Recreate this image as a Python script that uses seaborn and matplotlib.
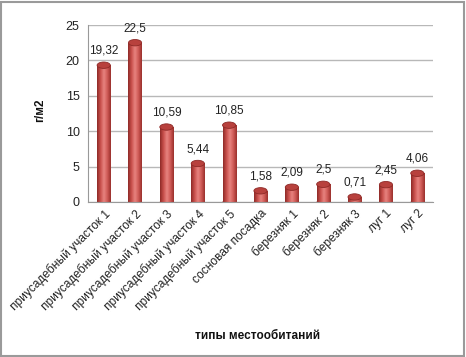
import numpy as np
import pandas as pd
import matplotlib
matplotlib.use("Agg")
import matplotlib.pyplot as plt
import seaborn as sns
from matplotlib.patches import Rectangle, Ellipse
from matplotlib.colors import LinearSegmentedColormap

categories = ["приусадебный участок 1", "приусадебный участок 2", "приусадебный участок 3",
              "приусадебный участок 4", "приусадебный участок 5", "сосновая посадка",
              "березняк 1", "березняк 2", "березняк 3", "луг 1", "луг 2"]
values = [19.32, 22.5, 10.59, 5.44, 10.85, 1.58, 2.09, 2.5, 0.71, 2.45, 4.06]
value_labels = ["19,32", "22,5", "10,59", "5,44", "10,85", "1,58", "2,09", "2,5", "0,71", "2,45", "4,06"]
y_ticks = [0, 5, 10, 15, 20, 25]

sns.set_style("white")
plt.rcParams["font.family"] = ["Liberation Sans", "DejaVu Sans"]

df = pd.DataFrame({"cat": categories, "val": values})

fig = plt.figure(figsize=(4.66, 3.57), dpi=100)
ax = fig.add_axes([88/466, 155/357, 345/466, 177/357])

sns.barplot(data=df, x="cat", y="val", color="#C0504D", width=0.42, ax=ax,
            edgecolor="none", saturation=1)

ax.set_ylim(0, 25)
ax.set_xlim(-0.5, len(categories) - 0.5)
ax.set_yticks(y_ticks)
ax.set_yticklabels([str(t) for t in y_ticks], fontsize=9, color="#222222")
for t in y_ticks:
    ax.axhline(t, color="#b8b8b8", lw=1.0, zorder=0)

cmap = LinearSegmentedColormap.from_list("cyl", ["#8e2a27", "#c9504c", "#e88480", "#cf5a56", "#9a302c"])
grad = np.linspace(0, 1, 64).reshape(1, -1)
for p in list(ax.patches):
    x0, y0 = p.get_x(), p.get_y()
    w, h = p.get_width(), p.get_height()
    im = ax.imshow(grad, extent=[x0, x0 + w, y0, y0 + h], aspect="auto", cmap=cmap,
                   zorder=2, interpolation="bilinear")
    im.set_clip_path(p)
    p.set_facecolor("none")
    top = Ellipse((x0 + w / 2, y0 + h), w, 0.9, facecolor="#b8413d", edgecolor="#8e2a27",
                  lw=0.6, zorder=3)
    ax.add_patch(top)
    bot = Ellipse((x0 + w / 2, y0), w, 0.9, facecolor="#9a302c", edgecolor="none", zorder=1.9)
    ax.add_patch(bot)

for i, (v, lab) in enumerate(zip(values, value_labels)):
    ax.annotate(lab, (i, v), xytext=(0, 6), textcoords="offset points", ha="center",
                va="bottom", fontsize=8.5, color="#222222")

ax.set_xticks(range(len(categories)))
ax.set_xticklabels(categories, rotation=45, ha="right", rotation_mode="anchor",
                   fontsize=8.6, color="#222222")
ax.tick_params(axis="x", which="major", length=0, pad=4)
ax.set_xticks(np.arange(-0.5, len(categories), 1.0), minor=True)
ax.tick_params(axis="x", which="minor", length=4, color="#999999", width=0.8)
ax.tick_params(axis="y", which="major", length=4, color="#999999", width=0.8, pad=2)

for s in ["top", "right"]:
    ax.spines[s].set_visible(False)
for s in ["left", "bottom"]:
    ax.spines[s].set_color("#999999")
    ax.spines[s].set_linewidth(0.8)

ax.set_xlabel("")
ax.set_ylabel("")
fig.text(40/466, 1 - 110/357, "г/м2", rotation=90, ha="center", va="center",
         fontsize=8.5, fontweight="bold", color="#111111")
fig.text(258/466, 1 - 336/357, "типы местообитаний", ha="center", va="center",
         fontsize=8.5, fontweight="bold", color="#111111")

fig.patches.append(Rectangle((0.003, 0.004), 0.992, 0.99, transform=fig.transFigure,
                             fill=False, edgecolor="#9a9a9a", lw=1.5))

fig.savefig("out.png", dpi=100)
